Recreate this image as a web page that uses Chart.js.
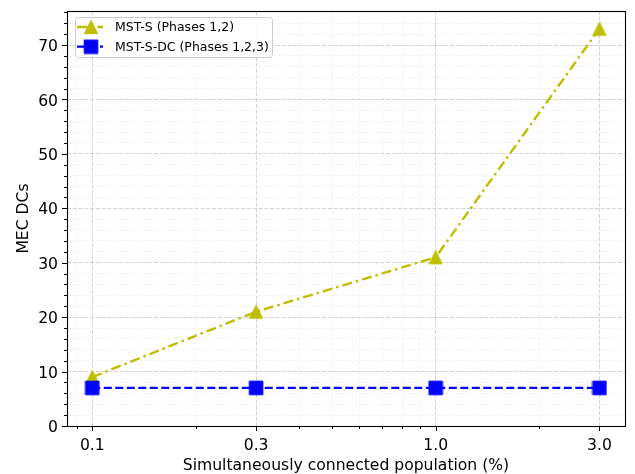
<!DOCTYPE html>
<html>
<head>
<meta charset="utf-8">
<script src="https://cdn.jsdelivr.net/npm/chart.js@4.4.1/dist/chart.umd.min.js"></script>
<style>
  html, body { margin: 0; padding: 0; background: #fff; }
  canvas { display: block; }
</style>
</head>
<body>
<canvas id="mecChart" width="635" height="474"></canvas>
<script>
// population connected at the same time (%), log axis
var populationPct = [0.1, 0.3, 1.0, 3.0];
var xTickLabels = ['0.1', '0.3', '1.0', '3.0'];
var xMinorTicks = [0.09, 0.2, 0.4, 0.5, 0.6, 0.7, 0.8, 0.9, 2];
var mstS = [9, 21, 31, 73];
var mstSDC = [7, 7, 7, 7];
var yMajorTicks = [0, 10, 20, 30, 40, 50, 60, 70];
var yMinorStep = 2;
var seriesNames = ['MST-S (Phases 1,2)', 'MST-S-DC (Phases 1,2,3)'];

var olive = '#bfbf00';
var blue = '#0000ff';
var fontFamily = '"DejaVu Sans", Verdana, sans-serif';
var labelSize = 15.6;

function makeMarker(shape, color) {
    var c = document.createElement('canvas');
    c.width = 16; c.height = 16;
    var g = c.getContext('2d');
    g.fillStyle = color;
    g.strokeStyle = color;
    g.lineWidth = 1;
    g.beginPath();
    if (shape === 'triangle') {
        g.moveTo(8, 1.5); g.lineTo(14.6, 14.6); g.lineTo(1.4, 14.6); g.closePath();
    } else {
        g.rect(1.2, 1.2, 13.6, 13.6);
    }
    g.fill();
    g.stroke();
    return c;
}

function toPoints(ys) {
    return populationPct.map(function (x, i) { return { x: x, y: ys[i] }; });
}

var triMarker = makeMarker('triangle', olive);
var sqMarker = makeMarker('square', blue);

// frame round the plot + outward tick marks (major long, minor short)
var axisDecor = {
    id: 'axisDecor',
    afterDraw: function (chart) {
        var ctx = chart.ctx, a = chart.chartArea;
        var xs = chart.scales.x, ys = chart.scales.y;
        ctx.save();
        ctx.strokeStyle = '#000';
        ctx.lineWidth = 1;
        ctx.beginPath();
        xs.ticks.forEach(function (t) {
            var px = Math.round(xs.getPixelForValue(t.value)) + 0.5;
            ctx.moveTo(px, a.bottom);
            ctx.lineTo(px, a.bottom + (t.major ? 5 : 3));
        });
        ys.ticks.forEach(function (t) {
            var py = Math.round(ys.getPixelForValue(t.value)) + 0.5;
            ctx.moveTo(a.left, py);
            ctx.lineTo(a.left - (t.major ? 5 : 3), py);
        });
        ctx.stroke();
        ctx.lineWidth = 1.1;
        ctx.strokeRect(Math.round(a.left) + 0.5, Math.round(a.top) + 0.5,
            Math.round(a.right - a.left), Math.round(a.bottom - a.top));
        ctx.restore();
    }
};

// matplotlib-like legend in the upper left corner of the plot
var insideLegend = {
    id: 'insideLegend',
    afterDraw: function (chart) {
        var ctx = chart.ctx, a = chart.chartArea;
        var bx = a.left + 8, by = a.top + 6, bw = 197, bh = 40;
        ctx.save();
        ctx.fillStyle = 'rgba(255,255,255,0.8)';
        ctx.strokeStyle = '#cccccc';
        ctx.lineWidth = 1;
        ctx.beginPath();
        ctx.roundRect(bx + 0.5, by + 0.5, bw, bh, 3);
        ctx.fill();
        ctx.stroke();
        chart.data.datasets.forEach(function (ds, i) {
            var cy = by + 10 + i * 19.7;
            ctx.strokeStyle = ds.borderColor;
            ctx.lineWidth = ds.borderWidth;
            ctx.setLineDash(ds.borderDash);
            ctx.beginPath();
            ctx.moveTo(bx + 2, cy);
            ctx.lineTo(bx + 28, cy);
            ctx.stroke();
            ctx.setLineDash([]);
            var m = ds.pointStyle;
            ctx.drawImage(m, bx + 16 - m.width / 2, cy - m.height / 2);
            ctx.fillStyle = '#000';
            ctx.font = '12.5px ' + fontFamily;
            ctx.textBaseline = 'middle';
            ctx.textAlign = 'left';
            ctx.fillText(ds.label, bx + 40, cy + 1);
        });
        ctx.restore();
    }
};

var ctx = document.getElementById('mecChart').getContext('2d');
new Chart(ctx, {
    type: 'line',
    data: {
        datasets: [{
            label: seriesNames[0],
            data: toPoints(mstS),
            borderColor: olive,
            backgroundColor: olive,
            borderWidth: 2.4,
            borderDash: [10, 4, 2.5, 4],
            pointStyle: triMarker,
            pointRadius: 7,
            order: 2
        }, {
            label: seriesNames[1],
            data: toPoints(mstSDC),
            borderColor: blue,
            backgroundColor: blue,
            borderWidth: 2.2,
            borderDash: [8, 3.5],
            pointStyle: sqMarker,
            pointRadius: 7,
            order: 1
        }]
    },
    options: {
        responsive: false,
        animation: false,
        layout: { padding: { top: 11, right: 10, left: 0, bottom: 0 } },
        plugins: { legend: { display: false }, tooltip: { enabled: false } },
        scales: {
            x: {
                type: 'logarithmic',
                min: 0.0844,
                max: 3.56,
                afterBuildTicks: function (scale) {
                    var t = populationPct.map(function (v) { return { value: v, major: true }; })
                        .concat(xMinorTicks.map(function (v) { return { value: v, major: false }; }));
                    t.sort(function (p, q) { return p.value - q.value; });
                    scale.ticks = t;
                },
                afterFit: function (scale) {
                    scale.height = 48;
                    scale.paddingLeft = 0;
                    scale.paddingRight = 0;
                },
                ticks: {
                    autoSkip: false,
                    maxRotation: 0,
                    padding: 11,
                    color: '#000',
                    font: { family: fontFamily, size: labelSize },
                    callback: function (value) {
                        var i = populationPct.indexOf(value);
                        return i >= 0 ? xTickLabels[i] : '';
                    }
                },
                grid: {
                    drawTicks: false,
                    color: function (c) { return c.tick && c.tick.major ? '#d3d3d3' : '#efefef'; },
                    lineWidth: function (c) { return c.tick && c.tick.major ? 1 : 0.8; }
                },
                border: {
                    display: false,
                    dash: function (c) { return c.tick && c.tick.major ? [4, 1.8] : [3, 1.8]; }
                },
                title: {
                    display: true,
                    text: 'Simultaneously connected population (%)',
                    color: '#000',
                    font: { family: fontFamily, size: labelSize },
                    padding: { top: 0, bottom: -1.5 }
                }
            },
            y: {
                type: 'linear',
                min: 0,
                max: 76.25,
                afterBuildTicks: function (scale) {
                    var t = [];
                    for (var v = 0; v <= 76; v += yMinorStep) {
                        t.push({ value: v, major: yMajorTicks.indexOf(v) >= 0 });
                    }
                    scale.ticks = t;
                },
                afterFit: function (scale) {
                    scale.width = 67;
                    scale.paddingTop = 0;
                    scale.paddingBottom = 0;
                },
                ticks: {
                    autoSkip: false,
                    padding: 9,
                    labelOffset: 2,
                    color: '#000',
                    font: { family: fontFamily, size: labelSize },
                    callback: function (value) {
                        return yMajorTicks.indexOf(value) >= 0 ? String(value) : '';
                    }
                },
                grid: {
                    drawTicks: false,
                    color: function (c) { return c.tick && c.tick.major ? '#d3d3d3' : '#efefef'; },
                    lineWidth: function (c) { return c.tick && c.tick.major ? 1 : 0.8; }
                },
                border: {
                    display: false,
                    dash: function (c) { return c.tick && c.tick.major ? [4, 1.8] : [3, 1.8]; }
                },
                title: {
                    display: true,
                    text: 'MEC DCs',
                    color: '#000',
                    font: { family: fontFamily, size: labelSize },
                    padding: { top: 14.5, bottom: 0 }
                }
            }
        }
    },
    plugins: [axisDecor, insideLegend]
});
</script>
</body>
</html>
